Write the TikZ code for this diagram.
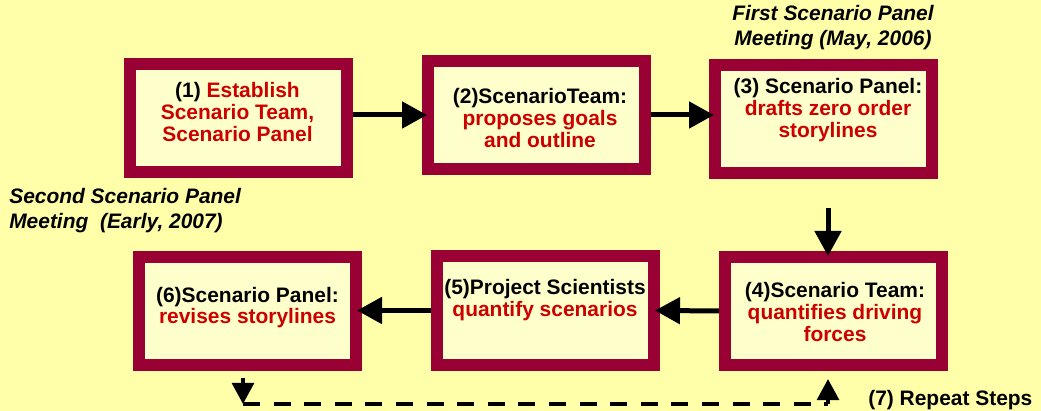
\documentclass[tikz,border=0pt]{standalone}
\usepackage{fontspec}
\setmainfont{Liberation Sans}
\usetikzlibrary{arrows.meta,calc}
\definecolor{pagefill}{HTML}{FFFFAA}
\definecolor{boxfill}{HTML}{FFFFCC}
\definecolor{boxdraw}{HTML}{990033}
\definecolor{actiontext}{HTML}{CC0000}

\begin{document}
\begin{tikzpicture}[
  x=0.25mm, y=-0.25mm,
  font=\bfseries\fontsize{14.9}{15.4}\selectfont,
  signal/.style={
    -{Triangle[length=6.25mm,width=6.5mm]}, draw=black,
    line width=1.25mm, shorten >=-1.25mm
  },
  repeatline/.style={
    draw=black, line width=1mm, dash pattern=on 4.25mm off 3.4mm
  },
  repeattip/.style={-{Triangle[length=5.25mm,width=5.4mm]}},
  stepbox/.style={
    draw=boxdraw, fill=boxfill, line width=3mm,
    minimum width=54.25mm, minimum height=27mm, inner sep=0pt
  },
  steptext/.style={align=center, inner sep=0pt},
  annotation/.style={
    font=\bfseries\itshape\fontsize{14.9}{17.8}\selectfont,
    align=center, inner sep=0pt
  }
]

% Page background, also fixes the margins.
\fill[pagefill] (0,0) rectangle (1041,411);
\useasboundingbox (0,0) rectangle (1041,411);

% Top row: steps 1 to 3.
\node[stepbox] (box1) at (238.5,118.5) {};
\node[stepbox] (box2) at (536.5,115) {};
\node[stepbox] (box3) at (823.5,119) {};
\node[steptext] (text1) at (237.5,112)
  {(1) \textcolor{actiontext}{Establish}\\
   \textcolor{actiontext}{Scenario Team,}\\
   \textcolor{actiontext}{Scenario Panel}};
\node[steptext] (text2) at (540,118)
  {(2)ScenarioTeam:\\
   \textcolor{actiontext}{proposes goals}\\
   \textcolor{actiontext}{and outline}};
\node[steptext] (text3) at (828,110)
  {(3) Scenario Panel:\\
   \textcolor{actiontext}{drafts zero order}\\
   \textcolor{actiontext}{storylines}};

% Bottom row: steps 4 to 6, right to left.
\node[stepbox] (box4) at (833.5,311) {};
\node[stepbox] (box5) at (545.5,310.5) {};
\node[stepbox] (box6) at (247.5,311) {};
\node[steptext] (text4) at (835,312)
  {(4)Scenario Team:\\
   \textcolor{actiontext}{quantifies driving}\\
   \textcolor{actiontext}{forces}};
\node[steptext] (text5) at (545,300)
  {(5)Project Scientists\\
   \textcolor{actiontext}{quantify scenarios}};
\node[steptext] (text6) at (247.5,307.5)
  {(6)Scenario Panel:\\
   \textcolor{actiontext}{revises storylines}};

% Flow between the steps.
\draw[signal] (box1.east |- box2.west) -- (box2.west);
\draw[signal] (box2.east) -- (box2.east -| box3.west);
\coordinate (down3) at (828,208);
\draw[signal] (down3) -- (down3 |- box4.north);
\draw[signal] (box4.west) -- (box5.east);
\draw[signal] (box5.west) -- (box5.west -| box6.east);

% Dashed return loop from step 6 back to step 4.
\coordinate (loopStart) at (243,378);
\coordinate (loopLeft) at (243,404);
\coordinate (loopRight) at (828,404);
\coordinate (loopEnd) at (828,379);
\draw[repeatline, repeattip] (loopStart) -- (loopLeft);
\draw[repeatline] (loopLeft) -- (loopRight);
\draw[repeatline, repeattip] (loopRight) -- (loopEnd);
\node[anchor=west, inner sep=0pt] (repeatLabel) at (868,400)
  {(7) Repeat Steps};

% Meeting notes.
\node[annotation] (firstMeeting) at (833,27.5)
  {First Scenario Panel\\Meeting (May, 2006)};
\node[annotation, align=left, anchor=west] (secondMeeting) at (9,210.5)
  {Second Scenario Panel\\Meeting\ \ (Early, 2007)};

\end{tikzpicture}
\end{document}
